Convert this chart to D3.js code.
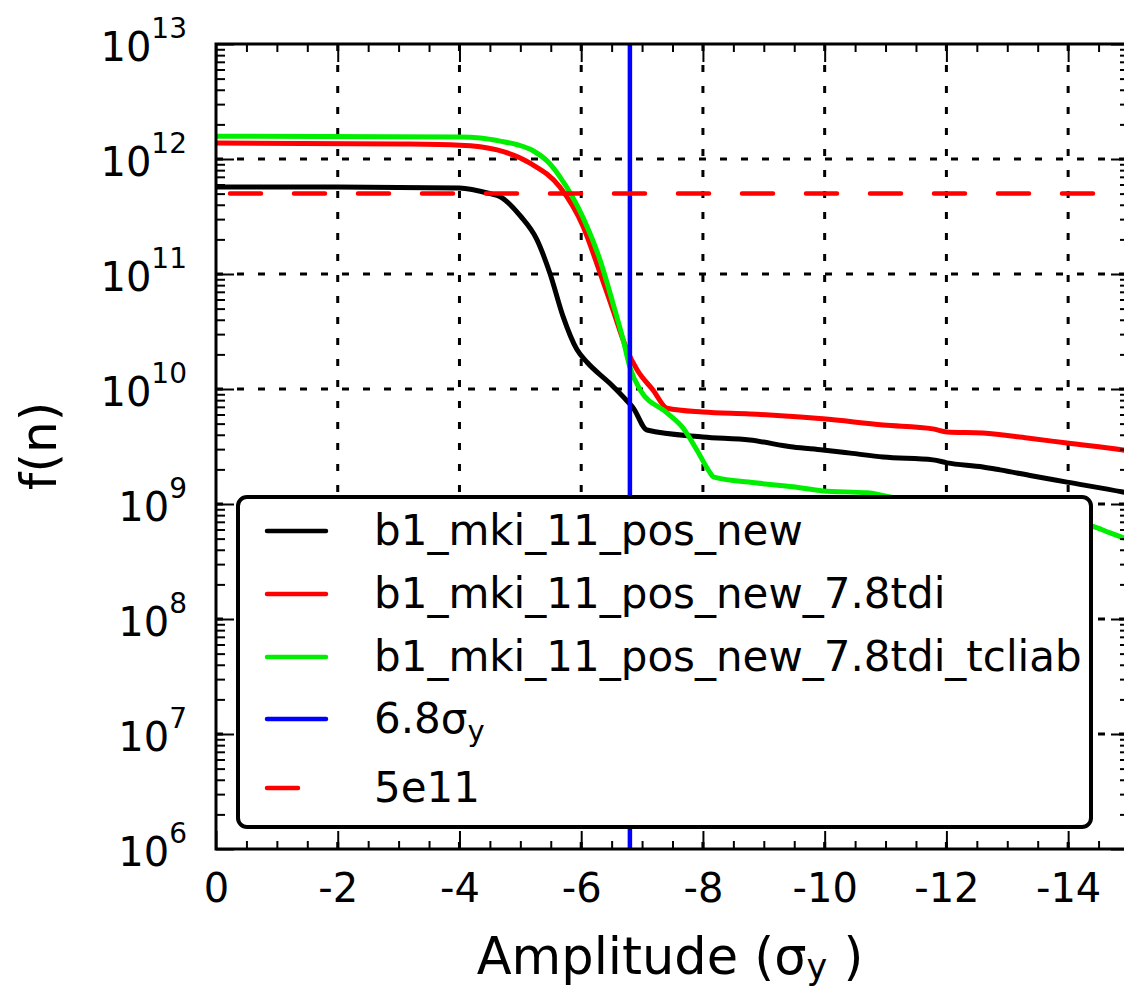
<!DOCTYPE html>
<html>
<head>
<meta charset="utf-8">
<script src="https://cdn.jsdelivr.net/npm/d3@7"></script>
<style>
  body { margin: 0; background: #fff; }
  text { font-family: "DejaVu Sans", sans-serif; }
</style>
</head>
<body>
<div id="chart"></div>
<script>
// amplitude (sigma_y) and f(n) values
var blackAmp = [0, -2, -4.0, -4.5, -4.67, -5.0, -5.27, -5.49, -5.7, -5.93, -6.1, -6.47, -6.75, -6.85, -7.08,
  -8.0, -8.77, -9.48, -9.97, -10.42, -10.96, -11.78, -12.01, -12.6, -12.88, -13.42, -13.98, -14.9, -15];
var blackF = [5.7e11, 5.7e11, 5.6e11, 5.0e11, 4.7e11, 3.2e11, 2.0e11, 1.0e11, 4.3e10, 2.2e10, 1.7e10, 1.12e10, 7.9e9, 6.9e9, 4.4e9,
  3.83e9, 3.6e9, 3.13e9, 2.95e9, 2.77e9, 2.56e9, 2.42e9, 2.28e9, 2.1e9, 1.98e9, 1.75e9, 1.55e9, 1.27e9, 1.24e9];

var redAmp = [0, -3.02, -4.01, -4.62, -5.16, -5.65, -6.03, -6.31, -6.52, -6.75, -6.92, -7.18, -7.41,
  -8.0, -8.77, -9.6, -9.97, -10.96, -11.78, -12.01, -12.6, -13.33, -13.98, -14.9, -15];
var redF = [1.38e12, 1.35e12, 1.32e12, 1.2e12, 9.2e11, 5.7e11, 2.6e11, 1.02e11, 4.9e10, 2.2e10, 1.46e10, 9.8e9, 6.8e9,
  6.3e9, 6.07e9, 5.7e9, 5.5e9, 4.86e9, 4.5e9, 4.23e9, 4.14e9, 3.75e9, 3.39e9, 2.95e9, 2.9e9];

var greenAmp = [0, -4.01, -4.34, -4.67, -4.95, -5.21, -5.45, -5.65, -6.03, -6.31, -6.52, -6.69, -6.8, -6.97, -7.41, -7.67, -7.9,
  -8.12, -8.17, -8.89, -9.48, -9.97, -10.7, -11.07, -12.88, -14.48, -14.69, -14.92, -15];
var greenF = [1.58e12, 1.55e12, 1.52e12, 1.43e12, 1.33e12, 1.18e12, 9.5e11, 7.0e11, 3.1e11, 1.32e11, 5.6e10, 2.67e10, 1.55e10, 9.8e9, 6.2e9, 4.6e9, 2.95e9,
  1.86e9, 1.72e9, 1.52e9, 1.41e9, 1.3e9, 1.25e9, 1.15e9, 9.2e8, 6.2e8, 5.6e8, 5.06e8, 4.9e8];

var cutAmp = -6.8;
var threshold = 5e11;

var seriesNames = ["b1_mki_11_pos_new", "b1_mki_11_pos_new_7.8tdi", "b1_mki_11_pos_new_7.8tdi_tcliab"];
var seriesColors = ["#000000", "#ff0000", "#00ee00"];

var xTicks = [0, -2, -4, -6, -8, -10, -12, -14];
var yExponents = [6, 7, 8, 9, 10, 11, 12, 13];

width = 1124;
height = 988;
margin = { top: 44, right: -5, bottom: 139, left: 216 };

var svg = d3.select("#chart").append("svg")
  .attr("width", width)
  .attr("height", height);

var x = d3.scaleLinear()
  .domain([0, -15])
  .range([margin.left, width - margin.right]);

var y = d3.scaleLog()
  .domain([1e6, 1e13])
  .range([height - margin.bottom, margin.top]);

var x0 = x.range()[0], x1 = x.range()[1];
var y0 = y.range()[0], y1 = y.range()[1];

svg.append("clipPath").attr("id", "plotClip")
  .append("rect")
  .attr("x", x0).attr("y", y1)
  .attr("width", x1 - x0).attr("height", y0 - y1);

var yMajor = yExponents.map(function (e) { return Math.pow(10, e); });
var yMinor = [];
yExponents.slice(0, -1).forEach(function (e) {
  for (var k = 2; k < 10; k++) yMinor.push(k * Math.pow(10, e));
});
var xMinor = d3.range(0, -15.01, -0.5).filter(function (v) { return xTicks.indexOf(v) < 0; });

// grid
var grid = svg.append("g").attr("class", "grid")
  .attr("stroke", "#000").attr("stroke-width", 3).attr("stroke-dasharray", "7,14");
grid.selectAll("line.v").data(xTicks.slice(1)).join("line")
  .attr("x1", d => x(d)).attr("x2", d => x(d))
  .attr("y1", y1).attr("y2", y0);
grid.selectAll("line.h").data(yMajor.slice(1, -1)).join("line")
  .attr("x1", x0).attr("x2", x1)
  .attr("y1", d => y(d)).attr("y2", d => y(d));

// data lines
var line = d3.line()
  .x(d => x(d[0]))
  .y(d => y(d[1]))
  .curve(d3.curveMonotoneX);

var plot = svg.append("g").attr("clip-path", "url(#plotClip)");
var series = [d3.zip(blackAmp, blackF), d3.zip(redAmp, redF), d3.zip(greenAmp, greenF)];
series.forEach(function (s, i) {
  plot.append("path")
    .datum(s)
    .attr("fill", "none")
    .attr("stroke", seriesColors[i])
    .attr("stroke-width", 5)
    .attr("stroke-linejoin", "round")
    .attr("d", line);
});

plot.append("line")
  .attr("x1", x(cutAmp)).attr("x2", x(cutAmp))
  .attr("y1", y1).attr("y2", y0)
  .attr("stroke", "#0000ff").attr("stroke-width", 4.5);

plot.append("line")
  .attr("x1", x0).attr("x2", x1)
  .attr("y1", y(threshold)).attr("y2", y(threshold))
  .attr("stroke", "#ff0000").attr("stroke-width", 4.5)
  .attr("stroke-linecap", "round")
  .attr("stroke-dasharray", "31,33")
  .attr("stroke-dashoffset", -14);

// axes: ticks point inward
function ticks(axis, values, size) {
  return axis.tickValues(values).tickSize(-size).tickSizeOuter(0).tickFormat("");
}
function styleAxis(g) {
  g.select(".domain").remove();
  g.selectAll(".tick line").attr("stroke", "#000").attr("stroke-width", 2);
}

svg.append("g").attr("transform", `translate(0, ${y0})`)
  .call(ticks(d3.axisBottom(x), xMinor, 8)).call(styleAxis);
svg.append("g").attr("transform", `translate(0, ${y1})`)
  .call(ticks(d3.axisTop(x), xMinor, 8)).call(styleAxis);
svg.append("g").attr("transform", `translate(0, ${y1})`)
  .call(ticks(d3.axisTop(x), xTicks, 18)).call(styleAxis);
svg.append("g").attr("transform", `translate(${x0}, 0)`)
  .call(ticks(d3.axisLeft(y), yMinor, 9)).call(styleAxis);
svg.append("g").attr("transform", `translate(${x1}, 0)`)
  .call(ticks(d3.axisRight(y), yMinor, 9)).call(styleAxis);
svg.append("g").attr("transform", `translate(${x1}, 0)`)
  .call(ticks(d3.axisRight(y), yMajor, 18)).call(styleAxis);

var xAxis = svg.append("g").attr("transform", `translate(0, ${y0})`)
  .call(d3.axisBottom(x).tickValues(xTicks).tickSize(-18).tickSizeOuter(0)
    .tickFormat(d => d === 0 ? "0" : String(d)))
  .call(styleAxis);
xAxis.selectAll(".tick text")
  .attr("y", 53).attr("dy", null)
  .attr("fill", "#000")
  .style("font-size", "40px")
  .style("font-family", "DejaVu Sans");

var yAxis = svg.append("g").attr("transform", `translate(${x0}, 0)`)
  .call(d3.axisLeft(y).tickValues(yMajor).tickSize(-18).tickSizeOuter(0).tickFormat(""))
  .call(styleAxis);
yAxis.selectAll(".tick").each(function (d) {
  var t = d3.select(this).append("text")
    .attr("x", -29).attr("y", 16)
    .attr("text-anchor", "end")
    .attr("fill", "#000")
    .style("font-size", "40px");
  t.append("tspan").text("10");
  t.append("tspan").attr("dy", -23).style("font-size", "28px")
    .text(Math.round(Math.log10(d)));
});

// frame
svg.append("rect")
  .attr("x", x0).attr("y", y1)
  .attr("width", x1 - x0).attr("height", y0 - y1)
  .attr("fill", "none").attr("stroke", "#000").attr("stroke-width", 3);

// axis labels
var xl = svg.append("text")
  .attr("x", 670).attr("y", 974)
  .attr("text-anchor", "middle")
  .style("font-size", "51px");
xl.append("tspan").text("Amplitude (σ");
xl.append("tspan").attr("dy", 5).style("font-size", "35px").text("y");
xl.append("tspan").attr("dy", -5).text(" )");

svg.append("text")
  .attr("transform", "translate(56, 446) rotate(-90)")
  .attr("text-anchor", "middle")
  .style("font-size", "50px")
  .text("f(n)");

// legend
var legend = svg.append("g");
legend.append("rect")
  .attr("x", 238).attr("y", 497)
  .attr("width", 853).attr("height", 330)
  .attr("rx", 9)
  .attr("fill", "#fff").attr("stroke", "#000").attr("stroke-width", 4);

var legendItems = [
  { label: seriesNames[0], color: seriesColors[0], dash: null },
  { label: seriesNames[1], color: seriesColors[1], dash: null },
  { label: seriesNames[2], color: seriesColors[2], dash: null },
  { label: "6.8σ", sub: "y", color: "#0000ff", dash: null },
  { label: "5e11", color: "#ff0000", dash: "31,40" }
];
var rowY = [531, 594, 657, 719, 788];
legendItems.forEach(function (d, i) {
  legend.append("line")
    .attr("x1", 267).attr("x2", 326)
    .attr("y1", rowY[i]).attr("y2", rowY[i])
    .attr("stroke", d.color).attr("stroke-width", 4.5)
    .attr("stroke-linecap", "round")
    .attr("stroke-dasharray", d.dash);
  var t = legend.append("text")
    .attr("x", 374).attr("y", rowY[i] + 14)
    .style("font-size", "42px");
  t.append("tspan").text(d.label);
  if (d.sub) t.append("tspan").attr("dy", 8).style("font-size", "29px").text(d.sub);
});
</script>
</body>
</html>
